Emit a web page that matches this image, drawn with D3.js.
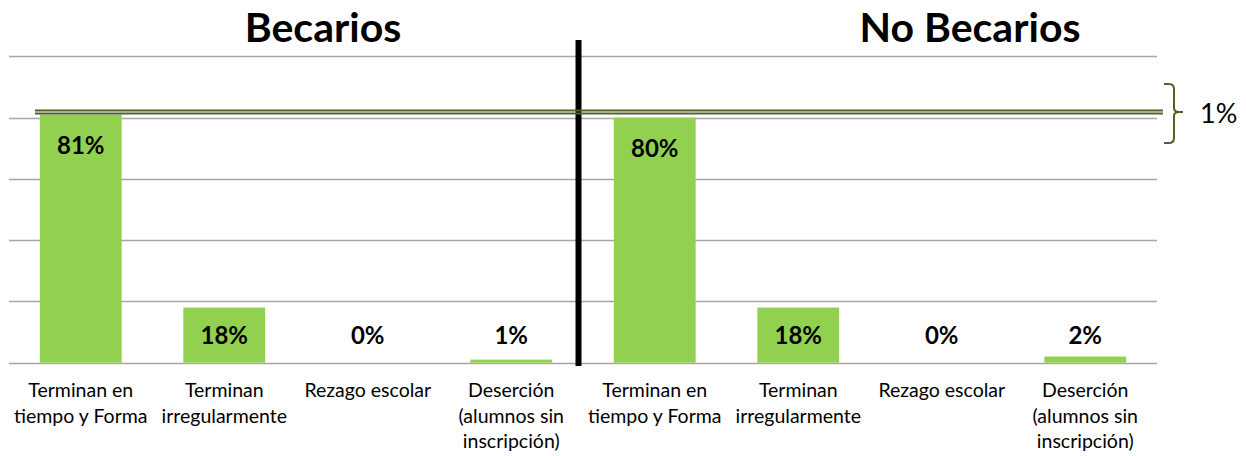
<!DOCTYPE html>
<html>
<head>
<meta charset="utf-8">
<script src="https://cdn.jsdelivr.net/npm/d3@7"></script>
<style>
  html, body { margin: 0; padding: 0; background: #fff; }
  svg { display: block; font-family: Lato, "Open Sans", sans-serif; }
</style>
</head>
<body>
<svg id="chart" width="1246" height="456"></svg>
<script>
// ---- data ----
const groups = ["Becarios", "No Becarios"];
const categoryLabels = [
  ["Terminan en", "tiempo y Forma"],
  ["Terminan", "irregularmente"],
  ["Rezago escolar"],
  ["Deserción", "(alumnos sin", "inscripción)"]
];
const becariosValues = [81, 18, 0, 1];
const noBecariosValues = [80, 18, 0, 2];
const yTicks = [0, 20, 40, 60, 80, 100];
const differenceLabel = "1%";

// ---- build rows ----
const rows = [];
[becariosValues, noBecariosValues].forEach((vals, g) => {
  vals.forEach((v, i) => rows.push({ key: g + "-" + i, group: g, cat: i, value: v }));
});

const svg = d3.select("#chart");
const x = d3.scaleBand().domain(rows.map(d => d.key)).range([9, 1157]).paddingInner(0.43).paddingOuter(0.215);
const y = d3.scaleLinear().domain([0, 100]).range([362.7, 56.3]);

// gridlines
svg.append("g").selectAll("line").data(yTicks).join("line")
  .attr("x1", 9).attr("x2", 1157)
  .attr("y1", d => Math.round(y(d)) + 0.5).attr("y2", d => Math.round(y(d)) + 0.5)
  .attr("stroke", "#a6a6a6").attr("stroke-width", 1.3);

// bars
svg.append("g").selectAll("rect").data(rows).join("rect")
  .attr("x", d => x(d.key)).attr("width", x.bandwidth())
  .attr("y", d => y(d.value)).attr("height", d => y(0) - y(d.value))
  .attr("fill", "#92d050");

// value labels
svg.append("g").selectAll("text").data(rows).join("text")
  .attr("x", d => x(d.key) + x.bandwidth() / 2)
  .attr("y", d => Math.min(y(d.value) + 39, 344))
  .attr("text-anchor", "middle")
  .attr("font-weight", "bold").attr("font-size", 24).attr("fill", "#000")
  .text(d => d.value + "%");

// category labels
const lab = svg.append("g").selectAll("text").data(rows).join("text")
  .attr("text-anchor", "middle").attr("font-size", 19.5).attr("fill", "#000")
  .attr("x", d => x(d.key) + x.bandwidth() / 2)
  .attr("y", 397);
lab.selectAll("tspan").data(d => categoryLabels[d.cat].map(t => ({ t, cx: x(d.key) + x.bandwidth() / 2 })))
  .join("tspan").attr("x", d => d.cx).attr("dy", (d, i) => i === 0 ? 0 : 25.5).text(d => d.t);

// group titles
const groupCenters = [323, 970];
svg.append("g").selectAll("text").data(groups).join("text")
  .attr("x", (d, i) => groupCenters[i]).attr("y", 41.5)
  .attr("text-anchor", "middle").attr("font-weight", "bold").attr("font-size", 41)
  .text(d => d);

// separator
svg.append("line").attr("x1", 578.5).attr("x2", 578.5).attr("y1", 40).attr("y2", 366)
  .attr("stroke", "#000").attr("stroke-width", 6);

// difference annotation lines
const annGreen = "#4f6228";
[becariosValues[0], noBecariosValues[0]].forEach(v => {
  svg.append("line").attr("x1", 35).attr("x2", 1163)
    .attr("y1", y(v) - 4).attr("y2", y(v) - 4)
    .attr("stroke", annGreen).attr("stroke-width", 2);
});
const bTop = 84, bBot = 143, bMid = (y(becariosValues[0]) + y(noBecariosValues[0])) / 2 - 4;
svg.append("path")
  .attr("d", `M1164,${bTop} H1169 Q1174,${bTop} 1174,${bTop + 5} V${bMid - 4} Q1174,${bMid} 1179,${bMid} H1183 M1179,${bMid} Q1174,${bMid} 1174,${bMid + 4} V${bBot - 5} Q1174,${bBot} 1169,${bBot} H1164`)
  .attr("fill", "none").attr("stroke", annGreen).attr("stroke-width", 2);
svg.append("text").attr("x", 1200).attr("y", 123).attr("font-size", 27).text(differenceLabel);
</script>
</body>
</html>
